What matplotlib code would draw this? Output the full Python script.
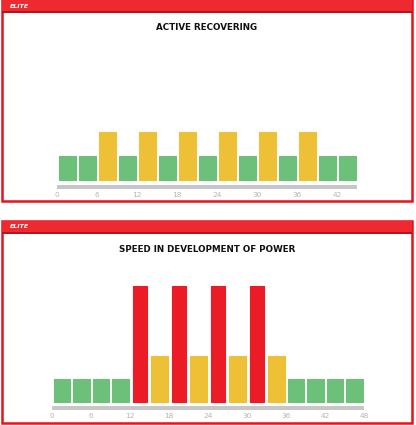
import matplotlib.pyplot as plt
from matplotlib.patches import Rectangle

# workout profiles: intensity level of each 3-minute block
top_title = "ACTIVE RECOVERING"
top_levels = [1, 1, 2, 1, 2, 1, 2, 1, 2, 1, 2, 1, 2, 1, 1]
top_ticks = [0, 6, 12, 18, 24, 30, 36, 42]

bottom_title = "SPEED IN DEVELOPMENT OF POWER"
bottom_levels = [1, 1, 1, 1, 5, 2, 5, 2, 5, 2, 5, 2, 1, 1, 1, 1]
bottom_ticks = [0, 6, 12, 18, 24, 30, 36, 42, 48]

block_len = 3

level_colors = {1: "#6cc07a", 2: "#edc035", 5: "#ec1c26"}
level_widths = {1: 2.55, 2: 2.5, 5: 2.15}

W, H = 416, 425
fig = plt.figure(figsize=(W / 100, H / 100), dpi=100)
fig.patch.set_facecolor("white")


def box(x0, y0, x1, y1):
    # pixel box (from top-left) -> figure fraction rect
    return [x0 / W, 1 - y1 / H, (x1 - x0) / W, (y1 - y0) / H]


def panel(top, bottom, title, title_y):
    x0, x1 = 2, 412
    fig.patches.append(Rectangle((x0 / W, 1 - bottom / H), (x1 - x0) / W, (bottom - top) / H,
                                 transform=fig.transFigure, facecolor="white",
                                 edgecolor="#e3141c", linewidth=1.8, zorder=0))
    fig.patches.append(Rectangle((x0 / W, 1 - (top + 12) / H), (x1 - x0) / W, 12 / H,
                                 transform=fig.transFigure, facecolor="#ee2a30",
                                 edgecolor="none", zorder=1))
    fig.patches.append(Rectangle((x0 / W, 1 - (top + 12.5) / H), (x1 - x0) / W, 1.2 / H,
                                 transform=fig.transFigure, facecolor="#b8121a",
                                 edgecolor="none", zorder=2))
    fig.text(10 / W, 1 - (top + 6) / H, "ELITE", color="white", fontsize=4.5,
             fontweight="bold", style="italic", va="center", ha="left")
    fig.text(207 / W, 1 - title_y / H, title, fontsize=6.3, fontweight="bold",
             ha="center", va="center", color="#111111")


def bars(rect, levels, ticks, px_per_unit, grey_px):
    ax = fig.add_axes(rect, zorder=5)
    n = len(levels)
    xs = [i * block_len + block_len / 2 for i in range(n)]
    ax.bar(xs, levels, width=[level_widths[v] for v in levels],
           color=[level_colors[v] for v in levels],
           edgecolor=[level_colors[v] for v in levels],
           linewidth=0.8, joinstyle="round")
    g0 = -4.5 / px_per_unit
    g1 = -(4.5 + grey_px) / px_per_unit
    ax.fill_between([0, n * block_len], g1, g0, color="#c6c6c6", linewidth=0)
    ax.set_xlim(0, n * block_len)
    ax.set_ylim(g1, max(levels) + 0.05)
    ax.set_xticks(ticks)
    ax.tick_params(axis="x", length=0, pad=2, labelsize=5.3, labelcolor="#b5b5b5")
    ax.set_yticks([])
    for s in ax.spines.values():
        s.set_visible(False)
    ax.patch.set_alpha(0)
    return ax


panel(0, 201, top_title, 28)
panel(221, 423, bottom_title, 249)

# top chart: baseline at y=180 px, 24 px per level
ppu_top = 24
top_h = 2.05 * ppu_top + 4.5 + 4.5
bars(box(57.3, 189 - top_h, 357.3, 189), top_levels, top_ticks, ppu_top, 4.5)

# bottom chart: baseline at y=401.7 px, 23.1 px per level
ppu_bot = 23.1
bot_h = 5.05 * ppu_bot + 4.5 + 4
bars(box(52.3, 410.2 - bot_h, 364.3, 410.2), bottom_levels, bottom_ticks, ppu_bot, 4)

fig.savefig("out.png", dpi=100)
